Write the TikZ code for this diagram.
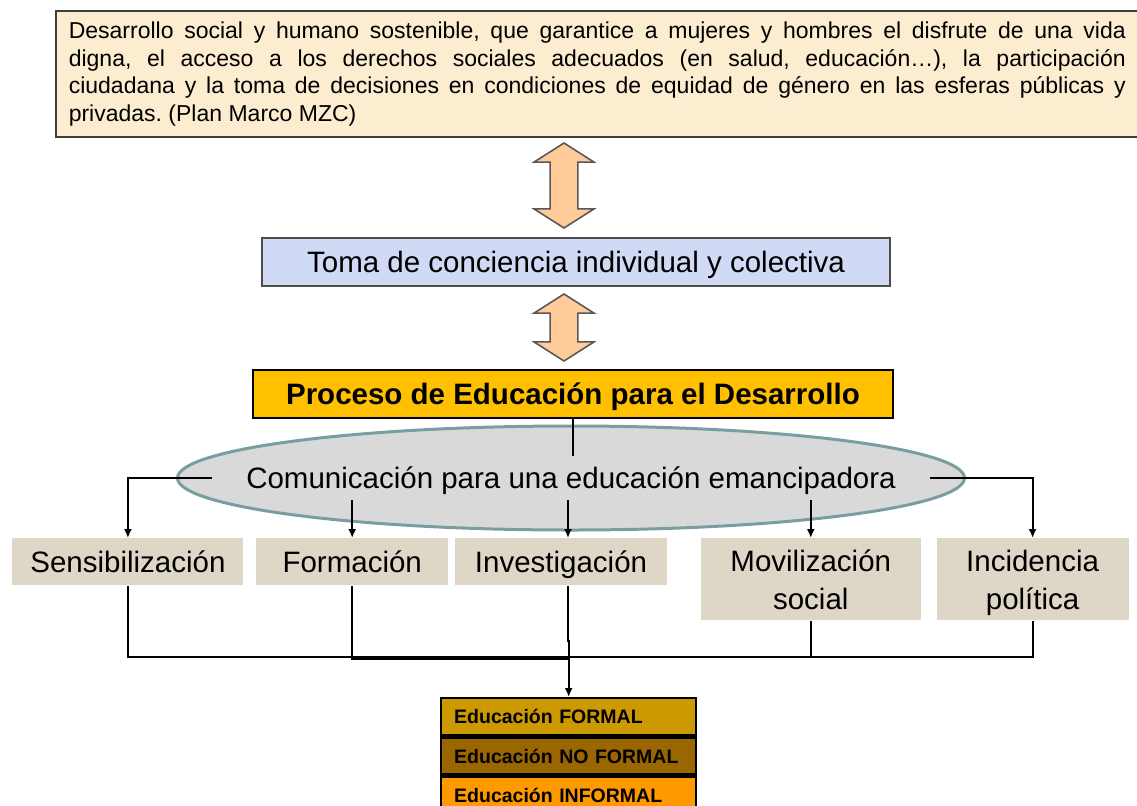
\documentclass[tikz,border=0pt]{standalone}
\usepackage{fontspec}
\setmainfont{Liberation Sans}
\usetikzlibrary{shapes.geometric, shapes.arrows, arrows.meta, positioning}

\definecolor{parchment}{RGB}{252,236,208}
\definecolor{lavblue}{RGB}{208,218,245}
\definecolor{procgold}{RGB}{255,192,0}
\definecolor{ellgrey}{RGB}{217,217,217}
\definecolor{ellrim}{RGB}{122,158,160}
\definecolor{granite}{RGB}{222,214,198}
\definecolor{peach}{RGB}{255,204,153}
\definecolor{formalc}{RGB}{204,153,0}
\definecolor{nonformalc}{RGB}{153,102,0}
\definecolor{informalc}{RGB}{255,153,0}

\newcommand{\jline}[1]{\makebox[528.5pt][s]{#1}}
\frenchspacing

\begin{document}
\begin{tikzpicture}[
    x=0.5pt, y=-0.5pt,
    bigfont/.style={font=\fontsize{14.75}{19}\selectfont},
    goalbox/.style={draw=black!75, line width=0.8pt, fill=parchment, anchor=north west,
        inner xsep=6.5pt, text width=528.5pt, align=justify, minimum height=63pt,
        font=\fontsize{11.5}{13.75}\selectfont},
    tomabox/.style={draw=black!70, line width=0.6pt, fill=lavblue, bigfont, text depth=0pt},
    procbox/.style={draw=black, line width=0.6pt, fill=procgold, text depth=0pt,
        font=\fontsize{14.75}{19}\selectfont\bfseries},
    commell/.style={ellipse, draw=ellrim, line width=1.5pt, fill=ellgrey},
    tanbox/.style={fill=granite, bigfont, align=center, anchor=north west, text depth=0pt},
    stackbox/.style={draw=black, line width=1.2pt, minimum width=127.5pt, minimum height=18.5pt,
        inner xsep=6.5pt, text width=114.5pt, align=left,
        font=\fontsize{9.75}{11}\selectfont\bfseries},
    fatarrow/.style={double arrow, rotate=90, draw=black!65, line width=0.8pt, fill=peach,
        minimum width=30pt, double arrow head extend=8pt, double arrow tip angle=115,
        inner xsep=0pt, inner ysep=6.5pt},
    myarrow/.style={-{Latex[length=4.5pt,width=4pt]}, line width=0.9pt},
    myline/.style={line width=0.9pt},
]
\useasboundingbox (0,0) rectangle (1137,805);

% Goal
\node[goalbox] (goal) at (55,10) {\jline{Desarrollo social y humano sostenible, que garantice a mujeres y hombres el disfrute de una vida}\\
\jline{digna, el acceso a los derechos sociales adecuados (en salud, educación…), la participación}\\
\jline{ciudadana y la toma de decisiones en condiciones de equidad de género en las esferas públicas y}\\
privadas. (Plan Marco MZC)};

% Middle column
\node[fatarrow, minimum height=42.5pt] (link1) at (564,185.5) {};
\node[tomabox, minimum width=314pt, minimum height=24pt] (toma) at (576,262) {Toma de conciencia individual y colectiva};
\node[fatarrow, minimum height=33.5pt] (link2) at (564,327.5) {};
\node[procbox, minimum width=320pt, minimum height=24pt] (proc) at (573,394) {Proceso de Educación para el Desarrollo};

\node[commell, minimum width=393.5pt, minimum height=52pt] (ell) at (571,478) {};
\node[bigfont, inner xsep=17pt, minimum height=22pt, text depth=0pt] (com) at (ell) {Comunicación para una educación emancipadora};

% Areas
\node[tanbox, minimum width=115.5pt, minimum height=23.5pt] (sens) at (12,538) {Sensibilización};
\node[tanbox, minimum width=96pt, minimum height=23.5pt, right=6pt of sens.north east, anchor=north west] (form) {Formación};
\node[tanbox, minimum width=106pt, minimum height=23.5pt, right=3pt of form.north east, anchor=north west] (inv) {Investigación};
\node[tanbox, minimum width=110pt, minimum height=41pt, right=16.5pt of inv.north east, anchor=north west] (mov) {Movilización\\social};
\node[tanbox, minimum width=96pt, minimum height=41pt, right=7.5pt of mov.north east, anchor=north west] (inc) {Incidencia\\política};

% Kinds of education
\node[stackbox, fill=formalc, anchor=north west] (formal) at (440,697) {Educación FORMAL};
\node[stackbox, fill=nonformalc, below=0pt of formal] (nonformal) {Educación NO FORMAL};
\node[stackbox, fill=informalc, below=0pt of nonformal] (informal) {Educación INFORMAL};

% Connectors
\draw[myline] (proc.south) -- (proc.south |- com.north);
\draw[myarrow] (com.west) -| (sens.north);
\draw[myarrow] (com.east) -| (inc.north);
\draw[myarrow] (com.south -| form.north) -- (form.north);
\draw[myarrow] ([xshift=3.5pt]inv.north |- com.south) -- ([xshift=3.5pt]inv.north);
\draw[myarrow] (com.south -| mov.north) -- (mov.north);

\coordinate (bus) at (567.5,657);
\draw[myline] (sens.south) |- (bus) -| (inc.south);
\draw[myline] (mov.south) -- (mov.south |- bus);
\draw[myline] (form.south) |- ([yshift=-1pt]bus);
\draw[myarrow] ([xshift=3.5pt]inv.south) -- ++(0,55) -| (formal.north);

\end{tikzpicture}
\end{document}
